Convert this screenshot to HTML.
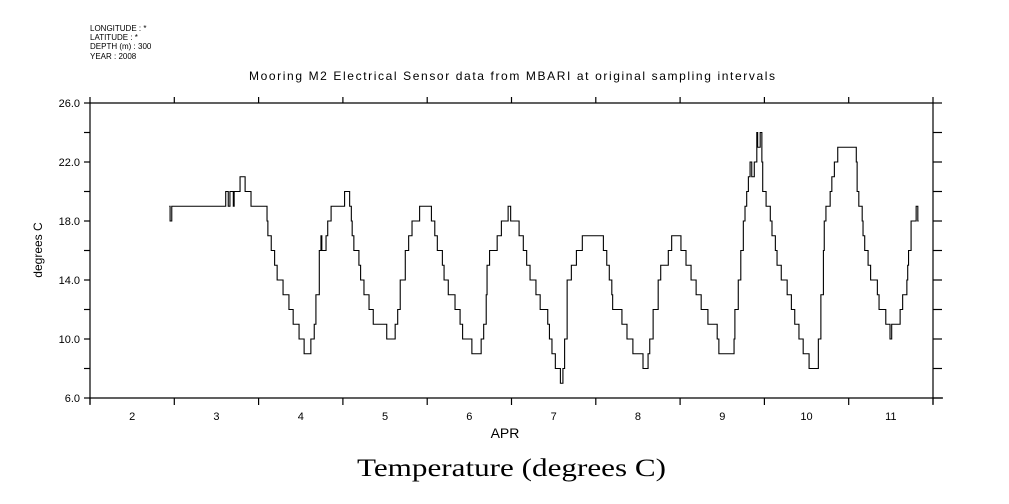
<!DOCTYPE html>
<html><head><meta charset="utf-8"><style>
body{margin:0;background:#fff;width:1009px;height:504px;overflow:hidden}
svg{display:block}
text{font-family:"Liberation Sans",sans-serif;fill:#000}
</style></head><body>
<svg id="chart" width="1009" height="504">
<g font-size="8">
<text x="90" y="31">LONGITUDE : *</text>
<text x="90" y="40">LATITUDE : *</text>
<text x="90" y="49">DEPTH (m) : 300</text>
<text x="90" y="59">YEAR : 2008</text>
</g>
<text x="249" y="80" font-size="12" textLength="526" lengthAdjust="spacing">Mooring M2 Electrical Sensor data from MBARI at original sampling intervals</text>
<text transform="translate(42,250) rotate(-90)" font-size="12" text-anchor="middle">degrees C</text>
<text x="505" y="438" font-size="14" text-anchor="middle">APR</text>
<text x="357" y="476" font-size="25" textLength="309" lengthAdjust="spacingAndGlyphs" style="font-family:'Liberation Serif',serif">Temperature (degrees C)</text>
<g id="axes"></g>
<path id="series" fill="none" stroke="#000" stroke-width="1.1"></path>
</svg>
<script>
const times=[2.94,2.95,2.97,3.61,3.64,3.66,3.70,3.71,3.78,3.84,3.91,4.10,4.11,4.15,4.19,4.22,4.29,4.36,4.41,4.48,4.54,4.62,4.66,4.68,4.72,4.74,4.75,4.80,4.82,4.86,5.02,5.08,5.10,5.11,5.13,5.19,5.21,5.25,5.31,5.36,5.52,5.62,5.65,5.68,5.74,5.78,5.82,5.91,6.05,6.09,6.12,6.18,6.20,6.25,6.33,6.39,6.42,6.53,6.64,6.67,6.70,6.71,6.74,6.83,6.88,6.96,6.99,7.09,7.14,7.18,7.22,7.29,7.34,7.43,7.45,7.48,7.52,7.58,7.61,7.63,7.66,7.71,7.77,7.84,8.09,8.13,8.16,8.19,8.20,8.31,8.37,8.44,8.56,8.62,8.64,8.68,8.74,8.77,8.86,8.90,9.01,9.07,9.13,9.19,9.25,9.33,9.44,9.46,9.64,9.65,9.69,9.72,9.75,9.77,9.79,9.81,9.83,9.85,9.88,9.91,9.92,9.95,9.97,9.98,10.02,10.07,10.09,10.13,10.15,10.20,10.27,10.32,10.36,10.41,10.46,10.53,10.64,10.67,10.70,10.71,10.73,10.78,10.80,10.83,10.87,11.09,11.10,11.12,11.16,11.17,11.19,11.23,11.26,11.34,11.36,11.44,11.49,11.51,11.61,11.64,11.69,11.70,11.71,11.74,11.80,11.82];
const temps=[19,18,19,20,19,20,19,20,21,20,19,18,17,16,15,14,13,12,11,10,9,10,11,13,16,17,16,17,18,19,20,19,18,17,16,15,14,13,12,11,10,11,12,14,16,17,18,19,18,17,16,15,14,13,12,11,10,9,10,11,13,15,16,17,18,19,18,17,16,15,14,13,12,11,10,9,8,7,8,10,14,15,16,17,16,15,14,13,12,11,10,9,8,9,10,12,14,15,16,17,16,15,14,13,12,11,10,9,10,12,14,16,18,19,20,21,22,21,22,24,23,24,22,20,19,18,17,16,15,14,13,12,11,10,9,8,10,13,16,18,19,20,21,22,23,22,20,19,18,17,16,15,14,13,12,11,10,11,12,13,14,15,16,18,19,18];
const endTime=11.83;
const yTicks=[6,10,14,18,22,26];
const yTickLabels=["6.0","10.0","14.0","18.0","22.0","26.0"];
const dayLabels=["2","3","4","5","6","7","8","9","10","11"];
const X0=90,X1=933,Y0=103,Y1=398;
const xs=t=>X0+(t-2)*(X1-X0)/10;
const ys=v=>Y0+(26-v)*(Y1-Y0)/20;
const ns="http://www.w3.org/2000/svg";
const ax=document.getElementById('axes');
function ln(x1,y1,x2,y2,name){const l=document.createElementNS(ns,'line');
l.setAttribute('x1',x1);l.setAttribute('y1',y1);l.setAttribute('x2',x2);l.setAttribute('y2',y2);
l.setAttribute('stroke','#000');l.setAttribute('stroke-width','1.2');


ax.appendChild(l);}
function tx(x,y,s,name,anchor){const t=document.createElementNS(ns,'text');
t.setAttribute('x',x);t.setAttribute('y',y);t.setAttribute('font-size','11');t.setAttribute('text-anchor',anchor);t.textContent=s;


ax.appendChild(t);}
ln(X0,Y0,X1,Y0,'top-axis');ln(X0,Y1,X1+10,Y1,'x-axis');
ln(X0,Y0,X0,Y1+6,'y-axis');ln(X1,Y0,X1,Y1+6,'right-axis');
for(let v=6;v<=26;v+=2){ln(X0-6,ys(v),X0,ys(v),'y-tick');ln(X1,ys(v),X1+9,ys(v),'right-tick');}
yTicks.forEach((v,i)=>tx(X0-10,ys(v)+4,yTickLabels[i],'y-tick-label','end'));
for(let d=2;d<=12;d++){ln(xs(d),Y1,xs(d),Y1+7,'x-tick');ln(xs(d),Y0-6,xs(d),Y0,'top-tick');}
dayLabels.forEach((s,i)=>tx(xs(+s+0.5),Y1+22,s,'x-tick-label','middle'));
let d='M'+xs(times[0])+' '+ys(temps[0]);
for(let i=1;i<times.length;i++){d+=' H'+xs(times[i])+' V'+ys(temps[i]);}
d+=' H'+xs(endTime);
document.getElementById('series').setAttribute('d',d);
</script>
</body></html>
